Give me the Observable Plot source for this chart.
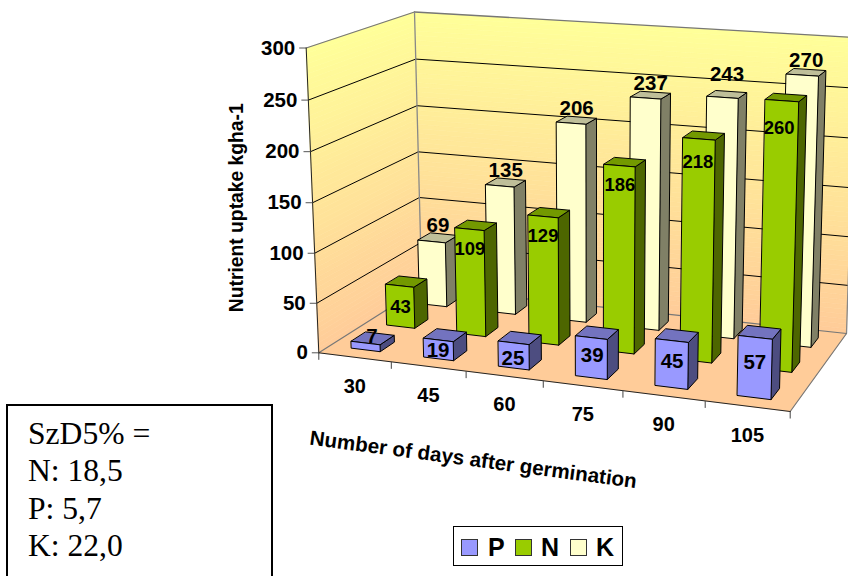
<!DOCTYPE html>
<html><head><meta charset="utf-8">
<script src="https://cdn.jsdelivr.net/npm/d3@7"></script>
<script src="https://cdn.jsdelivr.net/npm/@observablehq/plot@0.6"></script>
<style>
html,body{margin:0;padding:0;background:#fff;overflow:hidden}
#stage{position:relative;width:848px;height:576px;overflow:hidden}
#stage svg{position:absolute;left:0;top:0}
#note{position:absolute;left:6px;top:404px;width:243px;height:190px;border:2px solid #000;background:#fff;font:31.6px/37.3px "Liberation Serif",serif;color:#000;padding:9px 0 0 20px;box-sizing:content-box}
#legend{position:absolute;left:453px;top:526px;width:168px;height:38px;border:1px solid #000;background:#fff;font:bold 25px "Liberation Sans",sans-serif;color:#000}
#legend i{position:absolute;top:12px;width:17px;height:17px;border:1px solid #333;box-sizing:border-box}
#legend b{position:absolute;top:7px;line-height:26px}
</style></head><body>
<div id="stage"></div>
<script>
const days = [30, 45, 60, 75, 90, 105];
const P = [7, 19, 25, 39, 45, 57];
const N = [43, 109, 129, 186, 218, 260];
const K = [69, 135, 206, 237, 243, 270];
const yTicks = [0, 50, 100, 150, 200, 250, 300];
const seriesNames = ["P", "N", "K"];
const seriesValues = [P, N, K];
const faceColors = {
  P: ["#9999FF", "#7373BF", "#4D4D80"],
  N: ["#99CC00", "#739900", "#4D6600"],
  K: ["#FFFFCC", "#BFBF99", "#808066"]
};
const noteLines = ["SzD5% =", "N: 18,5", "P: 5,7", "K: 22,0"];

// perspective box: floor and ceiling quads (front-left, front-right, back-right, back-left)
const floorQuad = [[318.3,352.3],[789.7,411],[846,333],[421.3,287]];
const topQuad = [[305.7,47.5],[798,80],[855.5,37],[414,11.5]];
function homography(q){
  const [p0,p1,p2,p3]=q;
  const dx1=p1[0]-p2[0],dx2=p3[0]-p2[0],sx=p0[0]-p1[0]+p2[0]-p3[0];
  const dy1=p1[1]-p2[1],dy2=p3[1]-p2[1],sy=p0[1]-p1[1]+p2[1]-p3[1];
  const den=dx1*dy2-dx2*dy1;
  const g=(sx*dy2-dx2*sy)/den,h=(dx1*sy-sx*dy1)/den;
  const a=p1[0]-p0[0]+g*p1[0],b=p3[0]-p0[0]+h*p3[0],c=p0[0];
  const d=p1[1]-p0[1]+g*p1[1],e=p3[1]-p0[1]+h*p3[1],f=p0[1];
  return (u,v)=>{const w=g*u+h*v+1;return [(a*u+b*v+c)/w,(d*u+e*v+f)/w];};
}
const hF=homography(floorQuad),hT=homography(topQuad);
function proj(slot,depth,w){
  const A=hF(slot/6,depth),B=hT(slot/6,depth);
  const t0=w/300,k=0.97,t=t0*k/(1+(k-1)*t0);
  return [A[0]+(B[0]-A[0])*t,A[1]+(B[1]-A[1])*t];
}
const poly=(pts,fill,stroke,strokeWidth=1)=>Plot.line(pts,{x:d=>d[0],y:d=>d[1],fill,stroke,strokeWidth,curve:"linear-closed",strokeLinejoin:"round"});
const seg=(a,b,stroke,strokeWidth=1)=>Plot.line([a,b],{x:d=>d[0],y:d=>d[1],stroke,strokeWidth});

const marks=[];
// walls as gradient bands
const wallColor=d3.interpolateRgb("#FFCC99","#FFFF99");
const bands=d3.range(0,300,5);
for(const w of bands){
  const c=wallColor((w+2.5)/300);
  marks.push(poly([proj(0,1,w),proj(6,1,w),proj(6,1,w+5),proj(0,1,w+5)],c,c,0.6));
  marks.push(poly([proj(0,0,w),proj(0,1,w),proj(0,1,w+5),proj(0,0,w+5)],c,c,0.6));
}
marks.push(poly([proj(0,0,0),proj(6,0,0),proj(6,1,0),proj(0,1,0)],"#FFCC99","#FFCC99",0.6));
// gridlines
for(const w of yTicks.filter(d=>d>0&&d<300)){
  marks.push(seg(proj(0,0,w),proj(0,1,w),"#000",1));
  marks.push(seg(proj(0,1,w),proj(6,1,w),"#000",1));
}
// wall borders
marks.push(seg(proj(0,0,300),proj(0,1,300),"#777",1.3));
marks.push(seg(proj(0,1,300),proj(6,1,300),"#777",1.3));
marks.push(seg(proj(0,1,0),proj(0,1,300),"#888",1.3));
marks.push(seg(proj(6,1,0),proj(6,1,300),"#888",1.3));
marks.push(seg(proj(0,0,0),proj(0,1,0),"#777",1.2));
marks.push(seg(proj(0,1,0),proj(6,1,0),"#777",1.2));
marks.push(seg(proj(6,0,0),proj(6,1,0),"#777",1.2));
// axes
marks.push(seg(proj(0,0,0),proj(0,0,300),"#222",1));
marks.push(seg(proj(0,0,0),proj(6,0,0),"#222",1));
marks.push(Plot.link(yTicks.map(w=>proj(0,0,w)),{x1:d=>d[0]-7,y1:d=>d[1],x2:d=>d[0],y2:d=>d[1],stroke:"#555"}));
marks.push(Plot.link(d3.range(0,7).map(i=>proj(i,0,0)),{x1:d=>d[0],y1:d=>d[1],x2:d=>d[0],y2:d=>d[1]+7,stroke:"#444"}));

// bars, back row first
const barLo=0.3,barHi=0.7,rows=3;
for(let r=rows-1;r>=0;r--){
  const name=seriesNames[r],[cF,cT,cS]=faceColors[name];
  const d0=(r+barLo)/rows,d1=(r+barHi)/rows;
  seriesValues[r].forEach((val,i)=>{
    const s0=i+barLo,s1=i+barHi;
    marks.push(poly([proj(s1,d0,0),proj(s1,d1,0),proj(s1,d1,val),proj(s1,d0,val)],cS,"#000",1));
    marks.push(poly([proj(s0,d0,val),proj(s1,d0,val),proj(s1,d1,val),proj(s0,d1,val)],cT,"#000",1));
    marks.push(poly([proj(s0,d0,0),proj(s1,d0,0),proj(s1,d0,val),proj(s0,d0,val)],cF,"#000",1));
  });
}
// value labels: anchored on each bar's top centre
const labelShift={
  P:{dx:[-1,-7,-7,-5,-5,-5],dy:[-2,15,21,23,26,30],size:20.5},
  N:{dx:[-6,-6,-6,-5,-6,-7],dy:[25,24,23,23,27,31],size:18.5},
  K:{dx:[0,0,0,0,0,0],dy:[-12,-12,-12,-12,-20,-12],size:20.5}
};
const labels=[];
seriesNames.forEach((name,r)=>seriesValues[r].forEach((val,i)=>{
  const c=proj(i+0.5,(r+0.5)/rows,val);
  labels.push({x:c[0]+labelShift[name].dx[i],y:c[1]+labelShift[name].dy[i],text:String(val),size:labelShift[name].size});
}));
marks.push(Plot.text(labels,{x:"x",y:"y",text:"text",fontSize:"size",fontWeight:"bold",fill:"#000",lineAnchor:"middle"}));
// tick labels
marks.push(Plot.text(yTicks,{x:w=>proj(0,0,w)[0]-11,y:w=>proj(0,0,w)[1],text:w=>String(w),textAnchor:"end",lineAnchor:"middle",fontSize:20.5,fontWeight:"bold",fill:"#000"}));
marks.push(Plot.text(days,{x:(d,i)=>proj(i+0.5,0,0)[0],y:(d,i)=>proj(i+0.5,0,0)[1]+29,text:d=>String(d),lineAnchor:"middle",fontSize:20,fontWeight:"bold",fill:"#000"}));
// axis titles, placed from the box geometry
const yTitleAt=proj(0,0,150),xTitleAt=proj(3,0,0);
marks.push(Plot.text(["Nutrient uptake kgha-1"],{x:()=>yTitleAt[0]-76,y:()=>yTitleAt[1]+5,rotate:-90,lineAnchor:"middle",fontSize:19.3,fontWeight:"bold",fill:"#000"}));
marks.push(Plot.text(["Number of days after germination"],{x:()=>xTitleAt[0]-70,y:()=>xTitleAt[1]+79,rotate:7.6,lineAnchor:"middle",fontSize:20.6,fontWeight:"bold",fill:"#000"}));

const chart=Plot.plot({
  width:848,height:576,margin:0,
  style:{fontFamily:"'Liberation Sans',Arial,sans-serif",background:"transparent",overflow:"hidden"},
  x:{domain:[0,848],range:[0,848],axis:null},
  y:{domain:[0,576],range:[0,576],axis:null},
  marks
});
const stage=document.getElementById("stage");
stage.appendChild(chart);

const note=document.createElement("div");note.id="note";
noteLines.forEach(t=>{const l=document.createElement("div");l.textContent=t;note.appendChild(l);});
stage.appendChild(note);

const legend=document.createElement("div");legend.id="legend";
const swatchLeft=[7,61,116],textLeft=[34,87,142];
seriesNames.forEach((name,i)=>{
  const sw=document.createElement("i");sw.style.left=swatchLeft[i]+"px";sw.style.background=faceColors[name][0];legend.appendChild(sw);
  const b=document.createElement("b");b.style.left=textLeft[i]+"px";b.textContent=name;legend.appendChild(b);
});
stage.appendChild(legend);
</script>
</body></html>
